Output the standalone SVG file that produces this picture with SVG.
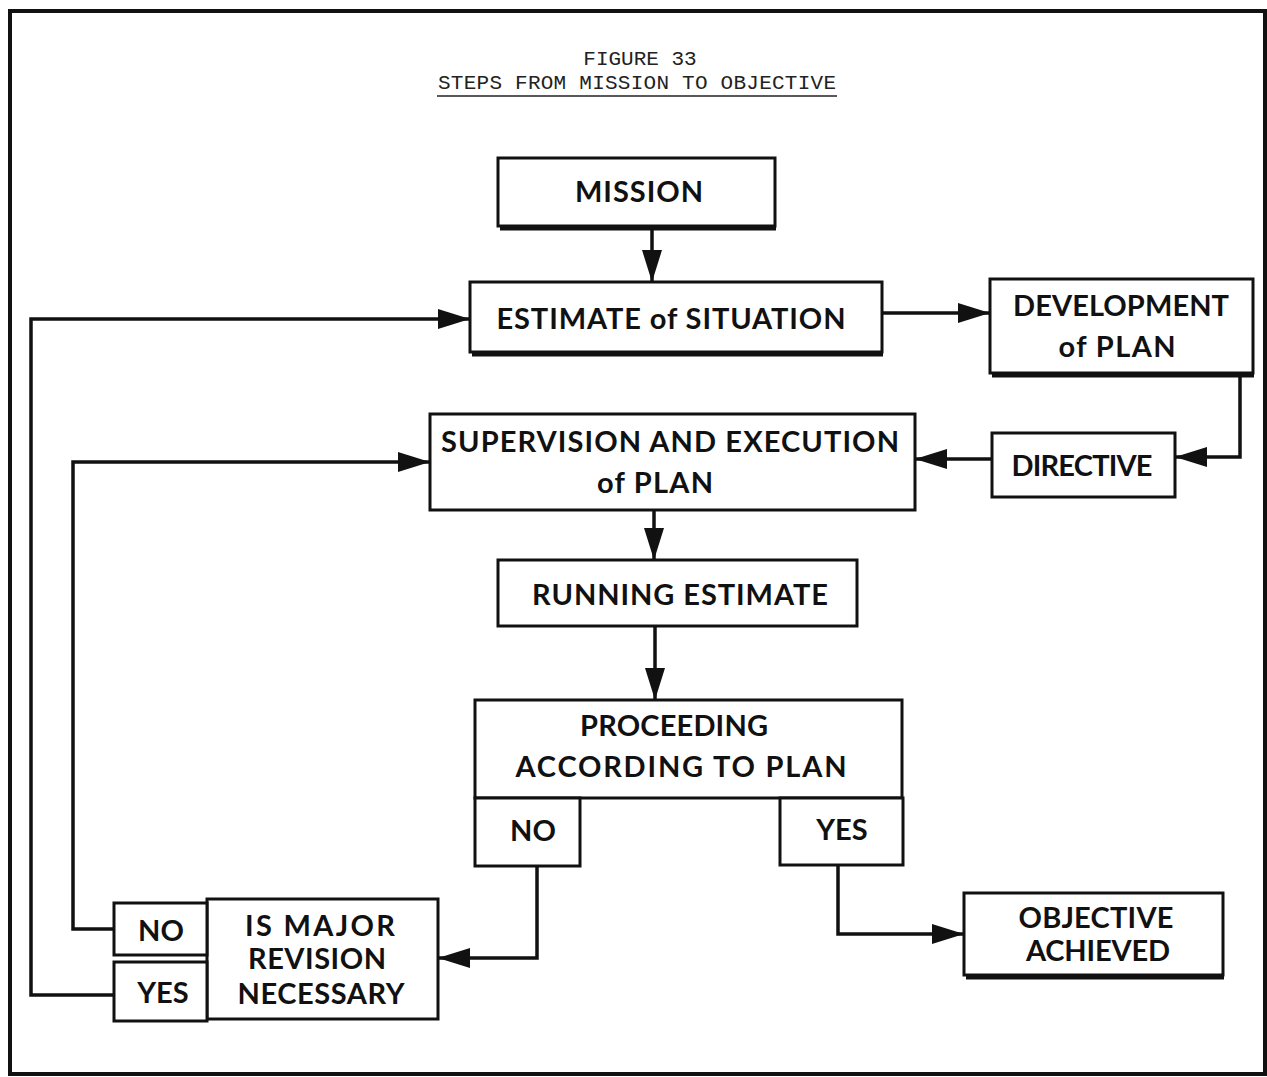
<svg xmlns="http://www.w3.org/2000/svg" width="1267" height="1077" viewBox="0 0 1267 1077">
<style>
.box{fill:#fff;stroke:#111;stroke-width:3}
.sh{stroke:#111;stroke-width:5;fill:none}
.lbl{font-family:Lato,"Liberation Sans",Arial,sans-serif;font-weight:bold;font-size:29px;fill:#111;text-anchor:middle}
.ttl{font-family:"Liberation Mono","Courier New",monospace;font-size:21px;fill:#222;text-anchor:middle}
.con{fill:none;stroke:#111;stroke-width:3.5}
</style>
<defs>
<marker id="ah" markerUnits="userSpaceOnUse" markerWidth="34" markerHeight="24" refX="32" refY="12" orient="auto">
<path d="M0,2 L32,12 L0,22 Z" fill="#111"/>
</marker>
</defs>
<rect width="1267" height="1077" fill="#fff"/>
<rect x="10" y="11" width="1255" height="1063" fill="none" stroke="#111" stroke-width="4"/>
<g id="title">
<text class="ttl" x="640" y="65">FIGURE 33</text>
<text class="ttl" x="637" y="89" textLength="398" lengthAdjust="spacing">STEPS FROM MISSION TO OBJECTIVE</text>
<line x1="437" y1="96" x2="837" y2="96" stroke="#222" stroke-width="1.5"/>
</g>
<g id="connectors">
<line class="con" x1="652" y1="226" x2="652" y2="282" marker-end="url(#ah)"/>
<line class="con" x1="882" y1="313" x2="990" y2="313" marker-end="url(#ah)"/>
<polyline class="con" points="1240,374 1240,457 1175,457" marker-end="url(#ah)"/>
<line class="con" x1="992" y1="459" x2="915" y2="459" marker-end="url(#ah)"/>
<line class="con" x1="654" y1="510" x2="654" y2="560" marker-end="url(#ah)"/>
<line class="con" x1="655" y1="626" x2="655" y2="700" marker-end="url(#ah)"/>
<polyline class="con" points="537,866 537,958 438,958" marker-end="url(#ah)"/>
<polyline class="con" points="838,865 838,934 964,934" marker-end="url(#ah)"/>
<polyline class="con" points="114,929 73,929 73,462 430,462" marker-end="url(#ah)"/>
<polyline class="con" points="114,995 31,995 31,319 470,319" marker-end="url(#ah)"/>
</g>
<g id="mission">
<rect class="box" x="498" y="158" width="277" height="68"/>
<line class="sh" x1="500" y1="228" x2="776" y2="228"/>
<text class="lbl" x="639" y="202" textLength="128" lengthAdjust="spacing">MISSION</text>
</g>
<g id="estimate">
<rect class="box" x="470" y="282" width="412" height="70"/>
<line class="sh" x1="472" y1="354" x2="883" y2="354"/>
<text class="lbl" x="671" y="329" textLength="349" lengthAdjust="spacing">ESTIMATE of SITUATION</text>
</g>
<g id="development">
<rect class="box" x="990" y="279" width="263" height="94"/>
<line class="sh" x1="992" y1="375" x2="1254" y2="375"/>
<text class="lbl" x="1121" y="316" textLength="216" lengthAdjust="spacing">DEVELOPMENT</text>
<text class="lbl" x="1117" y="357" textLength="117" lengthAdjust="spacing">of PLAN</text>
</g>
<g id="directive">
<rect class="box" x="992" y="433" width="183" height="64"/>
<text class="lbl" x="1082" y="476" textLength="141" lengthAdjust="spacing">DIRECTIVE</text>
</g>
<g id="supervision">
<rect class="box" x="430" y="414" width="485" height="96"/>
<text class="lbl" x="670" y="452" textLength="458" lengthAdjust="spacing">SUPERVISION AND EXECUTION</text>
<text class="lbl" x="655" y="493" textLength="116" lengthAdjust="spacing">of PLAN</text>
</g>
<g id="running">
<rect class="box" x="498" y="560" width="359" height="66"/>
<text class="lbl" x="680" y="605" textLength="296" lengthAdjust="spacing">RUNNING ESTIMATE</text>
</g>
<g id="proceeding">
<rect class="box" x="475" y="700" width="427" height="98"/>
<text class="lbl" x="674" y="736" textLength="188" lengthAdjust="spacing">PROCEEDING</text>
<text class="lbl" x="681" y="777" textLength="331" lengthAdjust="spacing">ACCORDING TO PLAN</text>
<rect class="box" x="475" y="798" width="105" height="68"/>
<text class="lbl" x="533" y="841">NO</text>
<rect class="box" x="780" y="798" width="123" height="67"/>
<text class="lbl" x="842" y="840">YES</text>
</g>
<g id="revision">
<rect class="box" x="207" y="899" width="231" height="120"/>
<text class="lbl" x="320" y="936" textLength="150" lengthAdjust="spacing">IS MAJOR</text>
<text class="lbl" x="317" y="969" textLength="138" lengthAdjust="spacing">REVISION</text>
<text class="lbl" x="321" y="1004" textLength="167" lengthAdjust="spacing">NECESSARY</text>
<rect class="box" x="114" y="903" width="93" height="52"/>
<text class="lbl" x="161" y="941">NO</text>
<rect class="box" x="114" y="962" width="93" height="59"/>
<text class="lbl" x="163" y="1003">YES</text>
</g>
<g id="objective">
<rect class="box" x="964" y="893" width="259" height="82"/>
<line class="sh" x1="966" y1="977" x2="1224" y2="977"/>
<text class="lbl" x="1096" y="928" textLength="155" lengthAdjust="spacing">OBJECTIVE</text>
<text class="lbl" x="1098" y="961" textLength="144" lengthAdjust="spacing">ACHIEVED</text>
</g>
</svg>
